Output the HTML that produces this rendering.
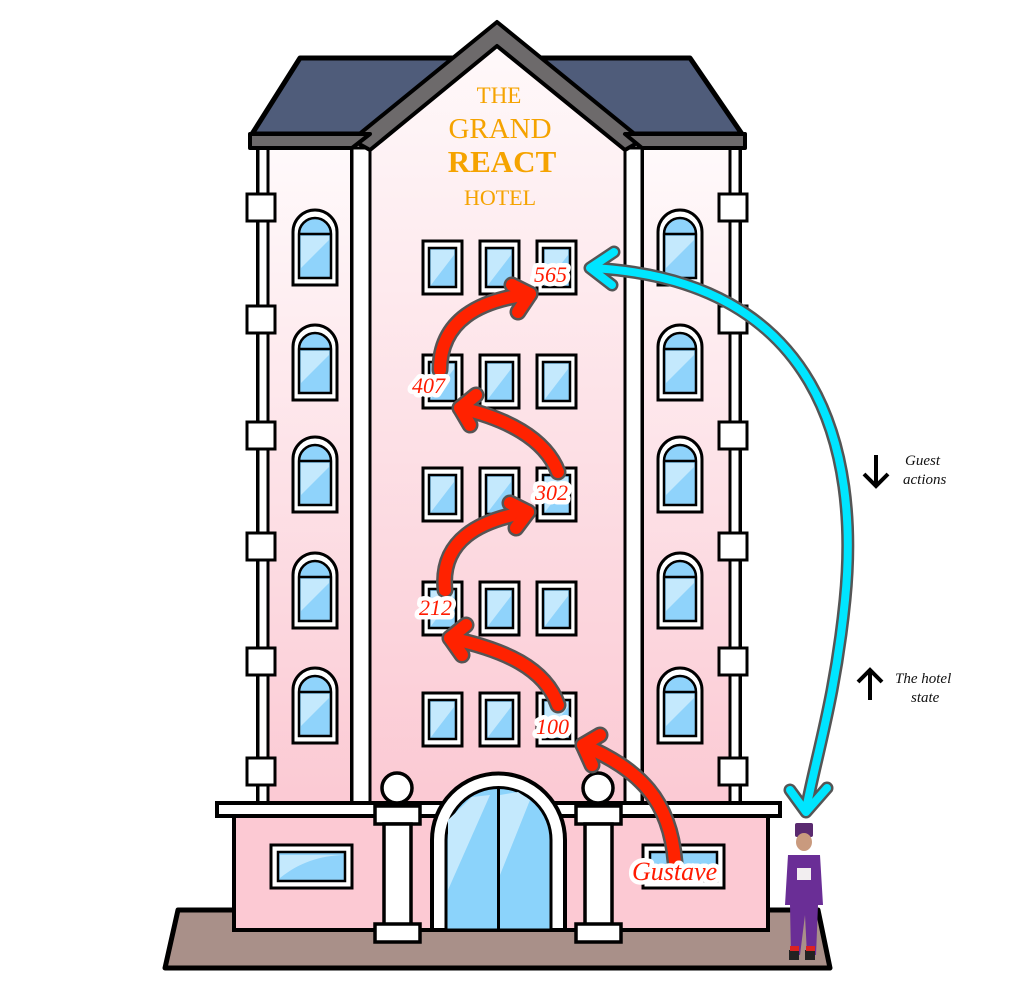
<!DOCTYPE html>
<html><head><meta charset="utf-8"><style>
html,body{margin:0;padding:0;background:#fff;}
svg{display:block;}
.lbl{font-family:"Liberation Serif",serif;font-style:italic;fill:#ff1a00;stroke:#fff;stroke-width:9px;paint-order:stroke;stroke-linejoin:round;}
.note{font-family:"Liberation Serif",serif;font-style:italic;font-size:15px;fill:#111;}
.title{font-family:"Liberation Serif",serif;fill:#f5a300;text-anchor:middle;}
</style></head><body>
<svg width="1024" height="995" viewBox="0 0 1024 995" xmlns="http://www.w3.org/2000/svg">
<defs>
<linearGradient id="bg" x1="0" y1="0" x2="0" y2="1">
<stop offset="0" stop-color="#fffafb"/><stop offset="1" stop-color="#fbc9d3"/>
</linearGradient>
<g id="cw">
<rect x="0" y="0" width="39" height="53" fill="#fff" stroke="#000" stroke-width="3"/>
<rect x="6" y="7" width="27" height="39" fill="#8fd3fb" stroke="#000" stroke-width="2.5"/>
<path d="M8,44 L31,14 L31,9 L8,9 Z" fill="#c4e9fd"/>
</g>
<g id="aw">
<path d="M0,75 L0,22 A22,22 0 0 1 44,22 L44,75 Z" fill="#fff" stroke="#000" stroke-width="3"/>
<path d="M6,68 L6,24 A16,16 0 0 1 38,24 L38,68 Z" fill="#8fd3fb" stroke="#000" stroke-width="2.5"/>
<line x1="6" y1="24" x2="38" y2="24" stroke="#000" stroke-width="2.5"/>
<path d="M8,58 L36,30 L36,26 L8,26 Z" fill="#c4e9fd"/>
</g>
<rect id="sq" x="0" y="0" width="28" height="27" fill="#fff" stroke="#000" stroke-width="3"/>
</defs>

<path d="M178,910 L818,910 L830,968 L165,968 Z" fill="#a99089" stroke="#000" stroke-width="5" stroke-linejoin="round"/>

<path d="M300,58 L690,58 L742,134 L252,134 Z" fill="#4f5c7a" stroke="#000" stroke-width="5" stroke-linejoin="round"/>

<rect x="258" y="146" width="482" height="662" fill="url(#bg)" stroke="#000" stroke-width="4"/>
<rect x="258" y="146" width="10" height="662" fill="#fff" stroke="#000" stroke-width="3"/>
<rect x="730" y="146" width="10" height="662" fill="#fff" stroke="#000" stroke-width="3"/>
<path d="M352,146 L497,28 L642,146 L642,808 L352,808 Z" fill="url(#bg)" stroke="#000" stroke-width="4"/>
<rect x="352" y="148" width="18" height="660" fill="#fff" stroke="#000" stroke-width="3"/>
<rect x="625" y="148" width="17" height="660" fill="#fff" stroke="#000" stroke-width="3"/>
<path d="M497,22 L352,140 L370,150 L497,46 L625,150 L642,140 Z" fill="#6d6a6b" stroke="#000" stroke-width="4" stroke-linejoin="round"/>
<path d="M250,134 L370,134 L352,148 L250,148 Z" fill="#6d6a6b" stroke="#000" stroke-width="4" stroke-linejoin="round"/>
<path d="M625,134 L745,134 L745,148 L642,148 Z" fill="#6d6a6b" stroke="#000" stroke-width="4" stroke-linejoin="round"/>

<text class="title" x="499" y="103" font-size="23">THE</text>
<text class="title" x="500" y="138" font-size="29">GRAND</text>
<text class="title" x="502" y="172" font-size="31" font-weight="bold">REACT</text>
<text class="title" x="500" y="205" font-size="22">HOTEL</text>

<use href="#aw" x="293" y="210"/><use href="#aw" x="293" y="325"/><use href="#aw" x="293" y="437"/><use href="#aw" x="293" y="553"/><use href="#aw" x="293" y="668"/>
<use href="#aw" x="658" y="210"/><use href="#aw" x="658" y="325"/><use href="#aw" x="658" y="437"/><use href="#aw" x="658" y="553"/><use href="#aw" x="658" y="668"/>
<use href="#sq" x="247" y="194"/><use href="#sq" x="247" y="306"/><use href="#sq" x="247" y="422"/><use href="#sq" x="247" y="533"/><use href="#sq" x="247" y="648"/><use href="#sq" x="247" y="758"/>
<use href="#sq" x="719" y="194"/><use href="#sq" x="719" y="306"/><use href="#sq" x="719" y="422"/><use href="#sq" x="719" y="533"/><use href="#sq" x="719" y="648"/><use href="#sq" x="719" y="758"/>

<g>
<use href="#cw" x="423" y="241"/><use href="#cw" x="480" y="241"/><use href="#cw" x="537" y="241"/>
<use href="#cw" x="423" y="355"/><use href="#cw" x="480" y="355"/><use href="#cw" x="537" y="355"/>
<use href="#cw" x="423" y="468"/><use href="#cw" x="480" y="468"/><use href="#cw" x="537" y="468"/>
<use href="#cw" x="423" y="582"/><use href="#cw" x="480" y="582"/><use href="#cw" x="537" y="582"/>
<use href="#cw" x="423" y="693"/><use href="#cw" x="480" y="693"/><use href="#cw" x="537" y="693"/>
</g>

<rect x="234" y="815" width="534" height="115" fill="#fcc9d3" stroke="#000" stroke-width="4"/>
<rect x="217" y="803" width="563" height="13" fill="#fff" stroke="#000" stroke-width="4"/>
<rect x="271" y="845" width="81" height="43" fill="#fff" stroke="#000" stroke-width="3"/>
<rect x="278" y="852" width="67" height="29" fill="#8fd3fb" stroke="#000" stroke-width="2.5"/>
<path d="M280,878 C300,862 320,856 343,855 L280,855 Z" fill="#c4e9fd"/>
<rect x="643" y="845" width="81" height="43" fill="#fff" stroke="#000" stroke-width="3"/>
<rect x="650" y="852" width="67" height="29" fill="#8fd3fb" stroke="#000" stroke-width="2.5"/>

<path d="M432,930 L432,840 A66,66 0 0 1 565,840 L565,930 Z" fill="#fff" stroke="#000" stroke-width="4"/>
<path d="M446,930 L446,840 A52,52 0 0 1 551,840 L551,930 Z" fill="#8bd3fb" stroke="#000" stroke-width="3"/>
<path d="M448,890 L490,795 L472,797 L448,820 Z" fill="#c4e9fd"/>
<path d="M500,875 L530,800 L518,792 L500,795 Z" fill="#c4e9fd"/>
<line x1="498.5" y1="788" x2="498.5" y2="930" stroke="#000" stroke-width="3"/>

<g stroke="#000" stroke-width="3.5">
<circle cx="397" cy="788" r="15" fill="#fff"/>
<rect x="375" y="806" width="45" height="18" fill="#fff"/>
<rect x="384" y="824" width="27" height="102" fill="#fff"/>
<rect x="375" y="924" width="45" height="18" fill="#fff"/>
<circle cx="598" cy="788" r="15" fill="#fff"/>
<rect x="576" y="806" width="45" height="18" fill="#fff"/>
<rect x="585" y="824" width="27" height="102" fill="#fff"/>
<rect x="576" y="924" width="45" height="18" fill="#fff"/>
</g>

<g fill="none" stroke-linecap="round" stroke-linejoin="round">
<path d="M592,268 C820,280 860,450 845,600 C835,700 815,760 806,810" stroke="#555" stroke-width="13"/>
<path d="M614,252 L590,268 L612,285" stroke="#555" stroke-width="13"/>
<path d="M790,790 L806,812 L827,788" stroke="#555" stroke-width="13"/>
<path d="M592,268 C820,280 860,450 845,600 C835,700 815,760 806,810" stroke="#00e5ff" stroke-width="8"/>
<path d="M614,252 L590,268 L612,285" stroke="#00e5ff" stroke-width="8"/>
<path d="M790,790 L806,812 L827,788" stroke="#00e5ff" stroke-width="8"/>
</g>

<g fill="none" stroke-linecap="round" stroke-linejoin="round">
<g stroke="#555" stroke-width="17">
<path d="M675,862 C670,800 640,770 583,745"/><path d="M600,735 L583,745 L592,765"/>
<path d="M558,705 C545,668 505,650 450,638"/><path d="M466,625 L450,638 L462,655"/>
<path d="M445,590 C440,540 480,520 528,512"/><path d="M510,503 L528,512 L516,528"/>
<path d="M558,472 C545,438 505,418 460,408"/><path d="M476,395 L460,408 L470,425"/>
<path d="M440,370 C440,320 480,300 530,294"/><path d="M512,285 L530,294 L518,312"/>
</g>
<g stroke="#ff2200" stroke-width="12">
<path d="M675,862 C670,800 640,770 583,745"/><path d="M600,735 L583,745 L592,765"/>
<path d="M558,705 C545,668 505,650 450,638"/><path d="M466,625 L450,638 L462,655"/>
<path d="M445,590 C440,540 480,520 528,512"/><path d="M510,503 L528,512 L516,528"/>
<path d="M558,472 C545,438 505,418 460,408"/><path d="M476,395 L460,408 L470,425"/>
<path d="M440,370 C440,320 480,300 530,294"/><path d="M512,285 L530,294 L518,312"/>
</g>
</g>

<text class="lbl" x="534" y="282" font-size="22">565</text>
<text class="lbl" x="412" y="393" font-size="22">407</text>
<text class="lbl" x="535" y="500" font-size="22">302</text>
<text class="lbl" x="419" y="615" font-size="22">212</text>
<text class="lbl" x="536" y="734" font-size="22">100</text>
<text class="lbl" x="632" y="880" font-size="26">Gustave</text>

<path d="M876,455 L876,485 M864,474 L876,486 L888,474" stroke="#000" stroke-width="4" fill="none"/>
<text class="note" x="905" y="465">Guest</text>
<text class="note" x="903" y="484">actions</text>
<path d="M870,700 L870,670 M858,682 L870,670 L882,682" stroke="#000" stroke-width="4" fill="none"/>
<text class="note" x="895" y="683">The hotel</text>
<text class="note" x="911" y="702">state</text>

<g>
<rect x="795" y="823" width="18" height="14" rx="2" fill="#5a2a70"/>
<ellipse cx="804" cy="842" rx="8" ry="9" fill="#c99a7e"/>
<path d="M788,855 L820,855 L823,905 L818,905 L816,955 L807,955 L805,915 L800,955 L791,955 L790,905 L785,905 Z" fill="#6a2e96"/>
<rect x="797" y="868" width="14" height="12" fill="#f2eef0"/>
<rect x="789" y="950" width="10" height="10" fill="#222"/>
<rect x="805" y="950" width="10" height="10" fill="#222"/>
<rect x="790" y="946" width="9" height="5" fill="#d22"/>
<rect x="806" y="946" width="9" height="5" fill="#d22"/>
</g>
</svg>
</body></html>
